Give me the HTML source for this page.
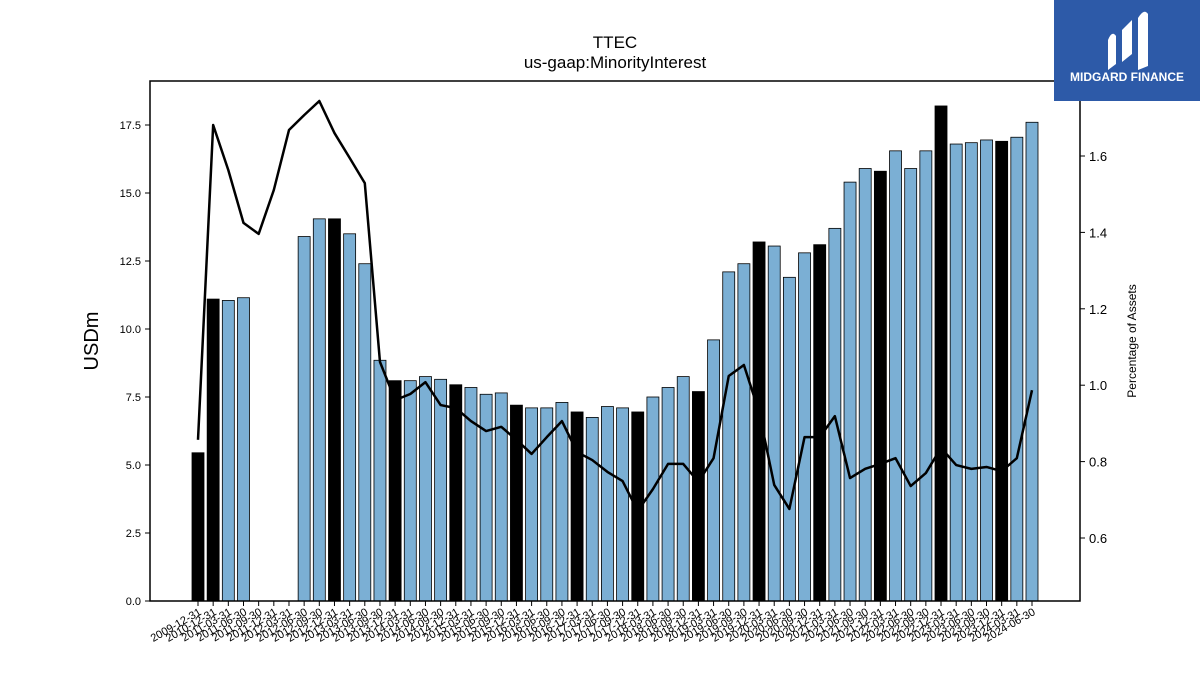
<!DOCTYPE html>
<html><head><meta charset="utf-8"><style>
body{margin:0;background:#fff;font-family:"Liberation Sans","DejaVu Sans",sans-serif;}
#wrap{position:relative;width:1200px;height:675px;overflow:hidden;}
</style></head><body>
<div id="wrap">
<svg id="chart" width="1200" height="675" xmlns="http://www.w3.org/2000/svg">
<text x="615" y="48" font-size="17" text-anchor="middle">TTEC</text>
<text x="615" y="68" font-size="17" text-anchor="middle">us-gaap:MinorityInterest</text>
<text transform="translate(98,341) rotate(-90)" font-size="20" text-anchor="middle">USDm</text>
<text transform="translate(1136,341) rotate(-90)" font-size="12" text-anchor="middle">Percentage of Assets</text>
<g id="bars"></g>
<g id="line"></g>
<g id="axes"></g>
<rect x="150" y="81" width="930" height="520" fill="none" stroke="#000" stroke-width="1.5"/>
<g>
<rect x="1054" y="0" width="146" height="101" fill="#2d5aa8"/>
<path d="M1108 70 L1108 40 Q1112 30 1116 36 L1116 64 Z M1122 62 L1122 30 L1132 20 L1132 54 Z M1138 70 L1138 18 Q1144 8 1148 14 L1148 66 Z" fill="#fff"/>
<text x="1127" y="81" font-size="12" font-weight="bold" fill="#fff" text-anchor="middle">MIDGARD FINANCE</text>
</g>
</svg>
</div>
<script>
const categories=["2009-12-31","2010-12-31","2011-03-31","2011-06-30","2011-09-30","2011-12-31","2012-03-31","2012-06-30","2012-09-30","2012-12-31","2013-03-31","2013-06-30","2013-09-30","2013-12-31","2014-03-31","2014-06-30","2014-09-30","2014-12-31","2015-03-31","2015-06-30","2015-09-30","2015-12-31","2016-03-31","2016-06-30","2016-09-30","2016-12-31","2017-03-31","2017-06-30","2017-09-30","2017-12-31","2018-03-31","2018-06-30","2018-09-30","2018-12-31","2019-03-31","2019-06-30","2019-09-30","2019-12-31","2020-03-31","2020-06-30","2020-09-30","2020-12-31","2021-03-31","2021-06-30","2021-09-30","2021-12-31","2022-03-31","2022-06-30","2022-09-30","2022-12-31","2023-03-31","2023-06-30","2023-09-30","2023-12-31","2024-03-31","2024-06-30"];
const values=[5.45,11.1,11.05,11.15,0,0,0,13.4,14.05,14.05,13.5,12.4,8.85,8.1,8.1,8.25,8.15,7.95,7.85,7.6,7.65,7.2,7.1,7.1,7.3,6.95,6.75,7.15,7.1,6.95,7.5,7.85,8.25,7.7,9.6,12.1,12.4,13.2,13.05,11.9,12.8,13.1,13.7,15.4,15.9,15.8,16.55,15.9,16.55,18.2,16.8,16.85,16.95,16.9,17.05,17.6];
const pctAssets=[0.857,1.681,1.563,1.425,1.396,1.511,1.668,1.707,1.744,1.66,1.595,1.529,1.061,0.961,0.977,1.008,0.948,0.94,0.906,0.88,0.891,0.857,0.82,0.864,0.906,0.825,0.804,0.773,0.749,0.671,0.728,0.794,0.794,0.747,0.809,1.024,1.053,0.93,0.739,0.676,0.864,0.864,0.919,0.757,0.781,0.794,0.809,0.736,0.77,0.836,0.791,0.781,0.786,0.775,0.809,0.987];
const leftTicks=[0,2.5,5,7.5,10,12.5,15,17.5];
const rightTicks=[0.6,0.8,1.0,1.2,1.4,1.6];
const NS="http://www.w3.org/2000/svg";
const x0=198,x1=1032;
const step=(x1-x0)/(categories.length-1);
const xPos=i=>x0+i*step;
const yL=v=>601-v*27.2;
const yR=v=>156+(1.6-v)*382;
function mk(t,a){const e=document.createElementNS(NS,t);for(const k in a)e.setAttribute(k,a[k]);return e;}
const bars=document.getElementById('bars');
values.forEach((v,i)=>{
 if(v<=0)return;
 const r=mk('rect',{x:xPos(i)-6,y:yL(v),width:12,height:601-yL(v),fill:categories[i].endsWith('12-31')?'#000':'#7bafd4',stroke:'#000','stroke-width':0.8});
 
 
 bars.appendChild(r);
});
const lg=document.getElementById('line');
const pl=mk('polyline',{points:pctAssets.map((v,i)=>xPos(i)+','+yR(v)).join(' '),fill:'none',stroke:'#000','stroke-width':2.5,'stroke-linejoin':'round'});


lg.appendChild(pl);
const ax=document.getElementById('axes');
leftTicks.forEach(t=>{
 const y=yL(t);
 ax.appendChild(mk('line',{x1:145,x2:150,y1:y,y2:y,stroke:'#000'}));
 const tx=mk('text',{x:141,y:y+4,'font-size':11,'text-anchor':'end'});
 
 
 tx.textContent=t.toFixed(1);ax.appendChild(tx);
});
rightTicks.forEach(t=>{
 const y=yR(t);
 ax.appendChild(mk('line',{x1:1080,x2:1085,y1:y,y2:y,stroke:'#000'}));
 const tx=mk('text',{x:1089,y:y+5,'font-size':13});
 
 
 tx.textContent=t.toFixed(1);ax.appendChild(tx);
});
categories.forEach((c,i)=>{
 const x=xPos(i);
 ax.appendChild(mk('line',{x1:x,x2:x,y1:601,y2:606,stroke:'#000'}));
 const tx=mk('text',{transform:'translate('+(x+4)+',614) rotate(-30)','font-size':11,'text-anchor':'end'});
 
 
 tx.textContent=c;ax.appendChild(tx);
});
</script>
</body></html>
